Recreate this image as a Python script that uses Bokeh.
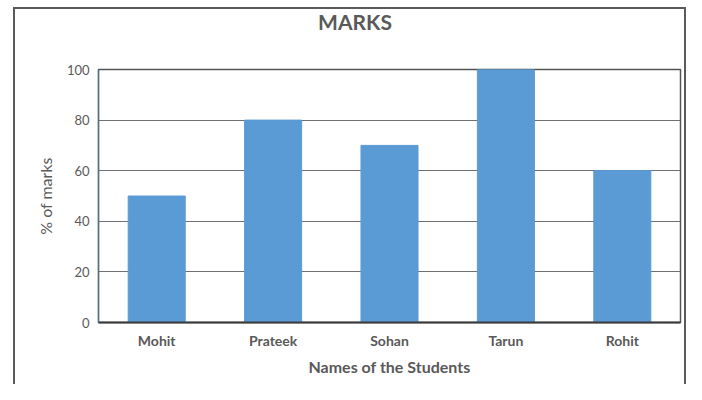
from bokeh.plotting import figure
from bokeh.models import FixedTicker, ColumnDataSource, Div
from bokeh.layouts import column
from bokeh.embed import file_html
from bokeh.resources import INLINE

students = ["Mohit", "Prateek", "Sohan", "Tarun", "Rohit"]
marks = [50, 80, 70, 100, 60]
y_ticks = [0, 20, 40, 60, 80, 100]
chart_title = "MARKS"

src = ColumnDataSource(dict(student=students, marks=marks))

title_div = Div(text=chart_title, width=669, height=40, margin=0,
                styles={"font-family": "Lato", "font-size": "21px", "font-weight": "bold",
                        "color": "#595959", "text-align": "center",
                        "padding-left": "11px", "line-height": "26px",
                        "box-sizing": "border-box"})

p = figure(x_range=students, y_range=(0, 100), width=669, height=335,
           output_backend="svg", toolbar_location=None, margin=0,
           min_border_left=83, min_border_top=20, min_border_right=4, min_border_bottom=62)

p.vbar(x="student", top="marks", width=0.49, source=src,
       fill_color="#5B9BD5", line_color="#5B9BD5")

p.outline_line_color = "#555555"
p.outline_line_width = 1.5

p.xgrid.grid_line_color = None
p.ygrid.ticker = FixedTicker(ticks=y_ticks)
p.ygrid.grid_line_color = "#6f6f6f"
p.ygrid.grid_line_width = 1.2

p.yaxis.ticker = FixedTicker(ticks=y_ticks)
p.yaxis.axis_line_color = "#4a6f97"
p.yaxis.axis_line_width = 1.2
p.yaxis.major_tick_line_color = None
p.yaxis.minor_tick_line_color = None
p.yaxis.major_tick_out = 0
p.yaxis.major_tick_in = 0
p.yaxis.major_label_standoff = 9
p.yaxis.major_label_text_font = "Lato"
p.yaxis.major_label_text_font_size = "13px"
p.yaxis.major_label_text_color = "#595959"
p.yaxis.axis_label = "% of marks"
p.yaxis.axis_label_text_font = "Lato"
p.yaxis.axis_label_text_font_size = "16px"
p.yaxis.axis_label_text_font_style = "normal"
p.yaxis.axis_label_text_color = "#595959"
p.yaxis.axis_label_standoff = 9

p.xaxis.axis_line_color = "#3a3a3a"
p.xaxis.axis_line_width = 2
p.xaxis.major_tick_line_color = None
p.xaxis.minor_tick_line_color = None
p.xaxis.major_tick_out = 0
p.xaxis.major_tick_in = 0
p.xaxis.major_label_standoff = 9
p.xaxis.major_label_text_font = "Lato"
p.xaxis.major_label_text_font_size = "14px"
p.xaxis.major_label_text_font_style = "bold"
p.xaxis.major_label_text_color = "#595959"
p.xaxis.axis_label = "Names of the Students"
p.xaxis.axis_label_text_font = "Lato"
p.xaxis.axis_label_text_font_size = "16px"
p.xaxis.axis_label_text_font_style = "bold"
p.xaxis.axis_label_text_color = "#595959"
p.xaxis.axis_label_standoff = 5

layout = column(title_div, p, spacing=0)
layout.styles = {"border-left": "2px solid #5a5a5a", "border-top": "2px solid #5a5a5a",
                 "border-right": "2px solid #5a5a5a",
                 "margin-left": "13px", "margin-top": "7px"}

open("out.html", "w").write(file_html(layout, INLINE))
